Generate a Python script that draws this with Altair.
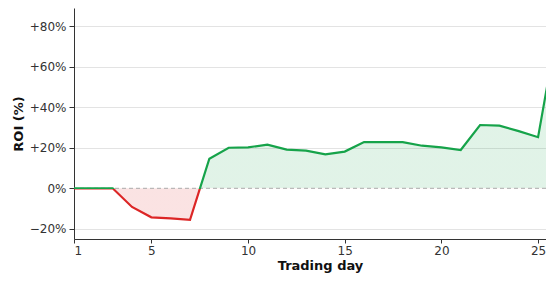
import altair as alt
import pandas as pd

# ---- data ----
days = list(range(1, 27))
roi = [0, 0, 0, -9.2, -14.3, -14.8, -15.6, 14.6, 20.0, 20.2, 21.5, 19.1, 18.6,
       16.7, 18.1, 22.8, 22.8, 22.8, 21.0, 20.2, 18.9, 31.2, 30.9, 28.2, 25.2, 79.0]
x_ticks = [1, 5, 10, 15, 20, 25]
y_ticks = [-20, 0, 20, 40, 60, 80]
baseline = [0]

df = pd.DataFrame({"day": days, "roi": roi})

# ---- layout / style ----
W, H = 472, 231
X_DOM = [1, 25.41]
Y_DOM = [-25, 88.9]
GREEN = "#16a34a"
RED = "#dc2626"
FONT = "DejaVu Sans"

vmax = max(max(roi), 0)
vmin = min(min(roi), 0)
f_area = vmax / (vmax - vmin)
px_per_unit = H / (Y_DOM[1] - Y_DOM[0])
f_line = min(1.0, f_area + 1.2 / ((vmax - vmin) * px_per_unit))


def split_gradient(off):
    return alt.Gradient(
        gradient="linear", x1=0, y1=0, x2=0, y2=1,
        stops=[
            alt.GradientStop(offset=0, color=GREEN),
            alt.GradientStop(offset=off, color=GREEN),
            alt.GradientStop(offset=off, color=RED),
            alt.GradientStop(offset=1, color=RED),
        ],
    )


x_enc = alt.X(
    "day:Q",
    scale=alt.Scale(domain=X_DOM, nice=False, zero=False),
    axis=alt.Axis(
        values=x_ticks, title="Trading day", grid=False,
        titleX=246, titleY=30, titleBaseline="alphabetic", labelPadding=2, tickSize=4,
    ),
)
y_enc = alt.Y(
    "roi:Q",
    scale=alt.Scale(domain=Y_DOM, nice=False, zero=False),
    axis=alt.Axis(
        values=y_ticks, title="ROI (%)", grid=True,
        gridColor={"condition": {"test": "datum.value === 0", "value": "transparent"},
                   "value": "#e3e3e3"},
        labelExpr="datum.value > 0 ? '+' + datum.value + '%' : (datum.value < 0 ? '\u2212' + abs(datum.value) + '%' : '0%')",
        titleX=-52, titleY=H / 2, titleBaseline="alphabetic",
    ),
)

base = alt.Chart(df)

area = base.mark_area(
    fill=split_gradient(f_area), fillOpacity=0.13, interpolate="linear", clip=True
).encode(x=x_enc, y=y_enc, y2=alt.datum(0))

zero = alt.Chart(pd.DataFrame({"y": baseline})).mark_rule(
    color="#aaaaaa", strokeDash=[4, 3], strokeWidth=1
).encode(y=alt.Y("y:Q"))

line = base.mark_line(
    stroke=split_gradient(f_line), strokeWidth=2.2, interpolate="linear", clip=True
).encode(x=x_enc, y=y_enc)

chart = (
    alt.layer(area, zero, line)
    .properties(
        width=W, height=H,
        autosize=alt.AutoSizeParams(type="none"),
        padding={"left": 66, "top": 0, "right": 0, "bottom": 34},
    )
    .configure_view(stroke=None)
    .configure_axis(
        labelFont=FONT, titleFont=FONT, labelFontSize=12, titleFontSize=13,
        titleFontWeight="bold", labelColor="#333333", titleColor="#111111",
        domainColor="#333333", tickColor="#333333", tickSize=5, labelPadding=3,
        domainWidth=1, tickWidth=1,
    )
)

chart.save("out.html", embed_options={"renderer": "svg", "actions": False})
